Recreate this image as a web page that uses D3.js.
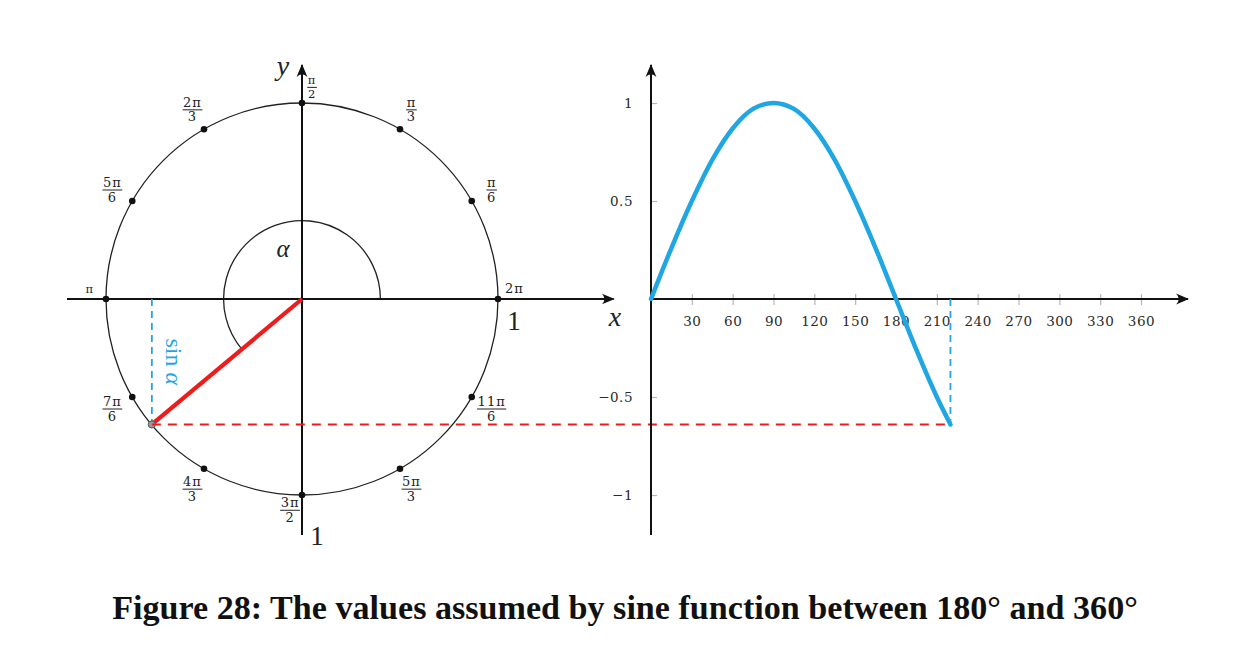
<!DOCTYPE html>
<html><head><meta charset="utf-8">
<script src="https://cdn.jsdelivr.net/npm/d3@7"></script>
<style>body{margin:0;background:#fff}</style>
</head><body>
<svg id="c" width="1255" height="646" xmlns="http://www.w3.org/2000/svg"></svg>
<script>
// ---- data ----
const markAngles = [30, 60, 90, 120, 150, 180, 210, 240, 270, 300, 330, 360];
const markNums   = ["π", "π", "π", "2π", "5π", "π", "7π", "4π", "3π", "5π", "11π", "2π"];
const markDens   = ["6", "3", "2", "3", "6", "", "6", "3", "2", "3", "6", ""];
const alphaDeg = 220;
const sineDeg = [0, 15, 30, 45, 60, 75, 90, 105, 120, 135, 150, 165, 180, 195, 210, 220];
const sineVal = [0, 0.26, 0.5, 0.71, 0.87, 0.97, 1, 0.97, 0.87, 0.71, 0.5, 0.26, 0, -0.26, -0.5, -0.64];
const xTicks = [30, 60, 90, 120, 150, 180, 210, 240, 270, 300, 330, 360];
const yTicks = [1, 0.5, -0.5, -1];
const yTickLabels = ["1", "0.5", "−0.5", "−1"];
const caption = "Figure 28: The values assumed by sine function between 180° and 360°";

// ---- setup ----
const svg = d3.select("#c");
const BLUE = "#1fa6e3", RED = "#ee1c1c", INK = "#111";
const serif = "'Liberation Serif', serif";

const defs = svg.append("defs");
defs.append("marker").attr("id", "arr").attr("viewBox", "0 0 12 12")
  .attr("refX", 11).attr("refY", 6).attr("markerWidth", 13).attr("markerHeight", 13)
  .attr("markerUnits", "userSpaceOnUse").attr("orient", "auto")
  .append("path").attr("d", "M0,1 Q5,6 0,11 L12,6 Z").attr("fill", INK);

// scales (left: unit circle, right: sine graph)
const cx = d3.scaleLinear().domain([-1, 1]).range([106, 498]);
const cy = d3.scaleLinear().domain([-1, 1]).range([495, 103]);
const rx = d3.scaleLinear().domain([0, 360]).range([651, 1141]);
const ry = cy;
const rad = d => d * Math.PI / 180;
const alphaSin = sineVal[sineVal.length - 1];
const alphaCos = Math.cos(rad(alphaDeg));

// ---------------- LEFT: unit circle ----------------
const L = svg.append("g");
L.append("circle").attr("cx", cx(0)).attr("cy", cy(0)).attr("r", cx(1) - cx(0))
  .attr("fill", "none").attr("stroke", "#222").attr("stroke-width", 1.3);
const arcR = cx(0.4) - cx(0);
const p = d3.path();
p.moveTo(cx(0) + arcR, cy(0));
p.arc(cx(0), cy(0), arcR, 0, -rad(alphaDeg), true);
L.append("path").attr("d", p.toString()).attr("fill", "none").attr("stroke", "#222").attr("stroke-width", 1.3);
L.append("line").attr("x1", cx(-1.199)).attr("x2", cx(1.59)).attr("y1", cy(0)).attr("y2", cy(0))
  .attr("stroke", INK).attr("stroke-width", 2).attr("marker-end", "url(#arr)");
L.append("line").attr("x1", cx(0)).attr("x2", cx(0)).attr("y1", cy(-1.204)).attr("y2", cy(1.194))
  .attr("stroke", INK).attr("stroke-width", 2).attr("marker-end", "url(#arr)");
L.append("line").attr("x1", cx(alphaCos)).attr("x2", cx(alphaCos)).attr("y1", cy(0)).attr("y2", cy(alphaSin))
  .attr("stroke", BLUE).attr("stroke-width", 1.8).attr("stroke-dasharray", "7,5");
svg.append("line").attr("x1", cx(alphaCos)).attr("x2", rx(alphaDeg)).attr("y1", cy(alphaSin)).attr("y2", cy(alphaSin))
  .attr("stroke", RED).attr("stroke-width", 2).attr("stroke-dasharray", "9,7");
L.append("line").attr("x1", cx(0)).attr("y1", cy(0)).attr("x2", cx(alphaCos)).attr("y2", cy(alphaSin))
  .attr("stroke", RED).attr("stroke-width", 4.2);
L.selectAll(".mk").data(markAngles).join("circle")
  .attr("cx", d => cx(Math.cos(rad(d)))).attr("cy", d => cy(Math.sin(rad(d))))
  .attr("r", 3.3).attr("fill", INK);
L.append("circle").attr("cx", cx(alphaCos)).attr("cy", cy(alphaSin)).attr("r", 3.6)
  .attr("fill", "#9a9a9a").attr("stroke", "#555").attr("stroke-width", 1);

function labelDir(a) {
  if (a % 90 !== 0) return a;
  if (a === 360) return 31;
  if (a === 270) return 231;
  return a - 32;
}
markAngles.forEach((a, i) => {
  const x0 = cx(Math.cos(rad(a))), y0 = cy(Math.sin(rad(a)));
  const la = rad(labelDir(a));
  const axial = a % 90 === 0;
  const dist = axial ? 19 : 23;
  const lx = x0 + dist * Math.cos(la), ly = y0 - dist * Math.sin(la);
  const g = L.append("g").attr("transform", `translate(${lx},${ly})`);
  const fs = (a === 90 || a === 180) ? 11.5 : 13;
  const st = t => t.attr("font-family", "'DejaVu Serif', serif").attr("font-size", fs)
    .attr("fill", "#222").attr("text-anchor", "middle").attr("letter-spacing", 1);
  if (markDens[i] === "") {
    st(g.append("text").attr("y", 4).text(markNums[i]));
  } else {
    const n = st(g.append("text").attr("y", -2.5).text(markNums[i]));
    st(g.append("text").attr("y", fs * 0.93).text(markDens[i]));
    const w = n.node().getComputedTextLength() + 1;
    g.append("line").attr("x1", -w / 2).attr("x2", w / 2).attr("y1", 0.5).attr("y2", 0.5)
      .attr("stroke", "#222").attr("stroke-width", 1);
  }
});

L.append("text").attr("x", 283).attr("y", 75).attr("font-family", serif).attr("font-style", "italic")
  .attr("font-size", 28).attr("fill", "#222").attr("text-anchor", "middle").text("y");
L.append("text").attr("x", 615).attr("y", 326).attr("font-family", serif).attr("font-style", "italic")
  .attr("font-size", 28).attr("fill", "#222").attr("text-anchor", "middle").text("x");
L.append("text").attr("x", 283).attr("y", 257).attr("font-family", serif).attr("font-style", "italic")
  .attr("font-size", 25).attr("fill", "#222").attr("text-anchor", "middle").text("α");
L.append("text").attr("x", cx(1) + 16).attr("y", cy(0) + 31).attr("font-family", serif)
  .attr("font-size", 27).attr("fill", "#222").attr("text-anchor", "middle").text("1");
L.append("text").attr("x", cx(0) + 15).attr("y", cy(-1) + 50).attr("font-family", serif)
  .attr("font-size", 27).attr("fill", "#222").attr("text-anchor", "middle").text("1");
const sinT = L.append("text").attr("transform", `translate(${cx(alphaCos) + 14},${(cy(0) + cy(alphaSin)) / 2}) rotate(90)`)
  .attr("font-family", serif).attr("font-size", 24).attr("fill", BLUE).attr("text-anchor", "middle");
sinT.append("tspan").text("sin ");
sinT.append("tspan").attr("font-style", "italic").text("α");

// ---------------- RIGHT: sine graph ----------------
const R = svg.append("g");
const xAxis = d3.axisBottom(rx).tickValues(xTicks).tickSize(6).tickPadding(11).tickFormat(d => d);
const gx = R.append("g").attr("transform", `translate(0,${ry(0)})`).call(xAxis);
gx.select(".domain").remove();
gx.selectAll(".tick line").attr("y1", -5).attr("y2", 6).attr("stroke", "#b5b5b5").attr("stroke-width", 1.2);
gx.selectAll(".tick text").attr("font-family", "'DejaVu Serif', serif").attr("font-size", 13.5)
  .attr("fill", "#2a2a2a").attr("letter-spacing", 0.5);
const yAxis = d3.axisLeft(ry).tickValues(yTicks).tickSize(-6).tickPadding(18)
  .tickFormat((d, i) => yTickLabels[i]);
const gy = R.append("g").attr("transform", `translate(${rx(0)},0)`).call(yAxis);
gy.select(".domain").remove();
gy.selectAll(".tick line").attr("stroke", "#b5b5b5").attr("stroke-width", 1.2);
gy.selectAll(".tick text").attr("font-family", "'DejaVu Serif', serif").attr("font-size", 13.5)
  .attr("fill", "#2a2a2a").attr("letter-spacing", 0.5);
R.append("line").attr("x1", rx(0)).attr("x2", rx(394.5)).attr("y1", ry(0)).attr("y2", ry(0))
  .attr("stroke", INK).attr("stroke-width", 2).attr("marker-end", "url(#arr)");
R.append("line").attr("x1", rx(0)).attr("x2", rx(0)).attr("y1", ry(-1.204)).attr("y2", ry(1.194))
  .attr("stroke", INK).attr("stroke-width", 2).attr("marker-end", "url(#arr)");
R.append("line").attr("x1", rx(alphaDeg)).attr("x2", rx(alphaDeg)).attr("y1", ry(0)).attr("y2", ry(alphaSin))
  .attr("stroke", BLUE).attr("stroke-width", 1.8).attr("stroke-dasharray", "7,5");
const line = d3.line().x((d, i) => rx(sineDeg[i])).y(d => ry(d)).curve(d3.curveMonotoneX);
R.append("path").attr("d", line(sineVal)).attr("fill", "none").attr("stroke", BLUE)
  .attr("stroke-width", 4.5).attr("stroke-linecap", "round");

// ---------------- caption ----------------
const cap = svg.append("text").attr("x", 625).attr("y", 619).attr("text-anchor", "middle")
  .attr("font-family", serif).attr("font-weight", "bold").attr("font-size", 30).attr("fill", "#111")
  .text(caption);
const cw = cap.node().getComputedTextLength();
cap.attr("font-size", 30 * 1026 / cw);
</script>
</body></html>
